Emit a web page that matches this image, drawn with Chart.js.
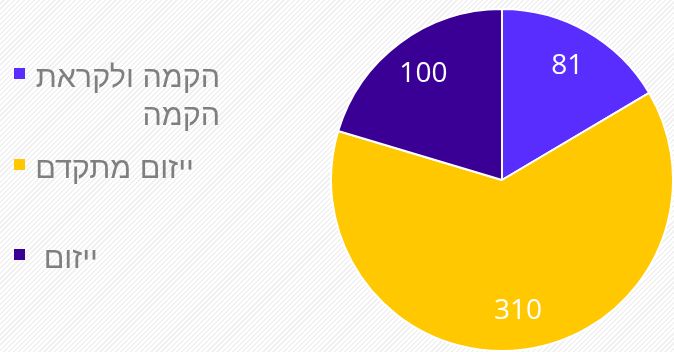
<!DOCTYPE html>
<html lang="he">
<head>
<meta charset="utf-8">
<script src="https://cdn.jsdelivr.net/npm/chart.js@4/dist/chart.umd.min.js"></script>
<style>
  html, body { margin: 0; padding: 0; }
  body {
    width: 674px; height: 352px; position: relative; overflow: hidden;
    background: repeating-linear-gradient(135deg, #ffffff 0 2px, #f1f1f1 2px 3.6px);
  }
  #pie { position: absolute; left: 0; top: 0; }
  #legend { position: absolute; left: 0; top: 0; width: 320px; height: 352px; }
  .item { position: absolute; left: 0; height: 38px; width: 320px; }
  .box { position: absolute; left: 14px; top: 11px; width: 11px; height: 11px; }
  .txt {
    position: absolute; left: 35px; top: 0; max-width: 200px;
    direction: rtl; text-align: right;
    font-family: "Liberation Sans", Arial, sans-serif; font-size: 30.5px; line-height: 38px;
    color: #7f7f7f;
  }
</style>
</head>
<body>
<canvas id="pie" width="674" height="352"></canvas>
<div id="legend"></div>
<script>
// Project stages and their counts
const categories = ['הקמה ולקראת הקמה', 'ייזום מתקדם', 'ייזום\u00a0'];
const counts = [81, 310, 100];
const sliceColors = ['#5a2dff', '#ffc800', '#3a0096'];

// Writes the count inside each slice, along its middle angle
const sliceLabels = {
  id: 'sliceLabels',
  afterDatasetsDraw(chart) {
    const ctx = chart.ctx;
    const meta = chart.getDatasetMeta(0);
    ctx.save();
    ctx.font = '400 28px "Open Sans"';
    ctx.fillStyle = '#ffffff';
    ctx.textAlign = 'center';
    ctx.textBaseline = 'middle';
    meta.data.forEach((arc, i) => {
      const p = arc.getProps(['x', 'y', 'startAngle', 'endAngle', 'outerRadius'], true);
      const mid = (p.startAngle + p.endAngle) / 2;
      const r = p.outerRadius * 0.77;
      ctx.fillText(String(chart.data.datasets[0].data[i]), p.x + Math.cos(mid) * r, p.y + Math.sin(mid) * r);
    });
    ctx.restore();
  }
};

// Shrinks a wrapped text block to the width of its longest line
function fitToLines(el) {
  const range = document.createRange();
  range.selectNodeContents(el);
  let w = 0;
  for (const r of range.getClientRects()) w = Math.max(w, r.width);
  if (w > 0) el.style.width = Math.ceil(w) + 'px';
}

// Legend rendered as HTML so the Hebrew labels can wrap right-to-left
const htmlLegend = {
  id: 'htmlLegend',
  afterUpdate(chart) {
    const host = document.getElementById('legend');
    host.innerHTML = '';
    const items = chart.options.plugins.legend.labels.generateLabels(chart);
    items.forEach((item, i) => {
      const row = document.createElement('div');
      row.className = 'item';
      row.style.top = (57 + i * 90.5) + 'px';
      const box = document.createElement('span');
      box.className = 'box';
      box.style.background = item.fillStyle;
      const txt = document.createElement('span');
      txt.className = 'txt';
      txt.textContent = item.text;
      row.appendChild(box);
      row.appendChild(txt);
      host.appendChild(row);
      fitToLines(txt);
    });
  }
};

function draw() {
  new Chart(document.getElementById('pie'), {
    type: 'pie',
    data: {
      labels: categories,
      datasets: [{
        data: counts,
        backgroundColor: sliceColors,
        borderColor: '#ffffff',
        borderWidth: 2
      }]
    },
    options: {
      responsive: false,
      animation: false,
      layout: { padding: { left: 330, top: 8, right: 0, bottom: 0 } },
      plugins: {
        legend: { display: false },
        tooltip: { enabled: false }
      }
    },
    plugins: [sliceLabels, htmlLegend]
  });
}

Promise.all([
  document.fonts.load('400 28px "Open Sans"'),
  document.fonts.load('30px "Liberation Sans"', 'הקמה')
]).then(draw, draw);
</script>
</body>
</html>
